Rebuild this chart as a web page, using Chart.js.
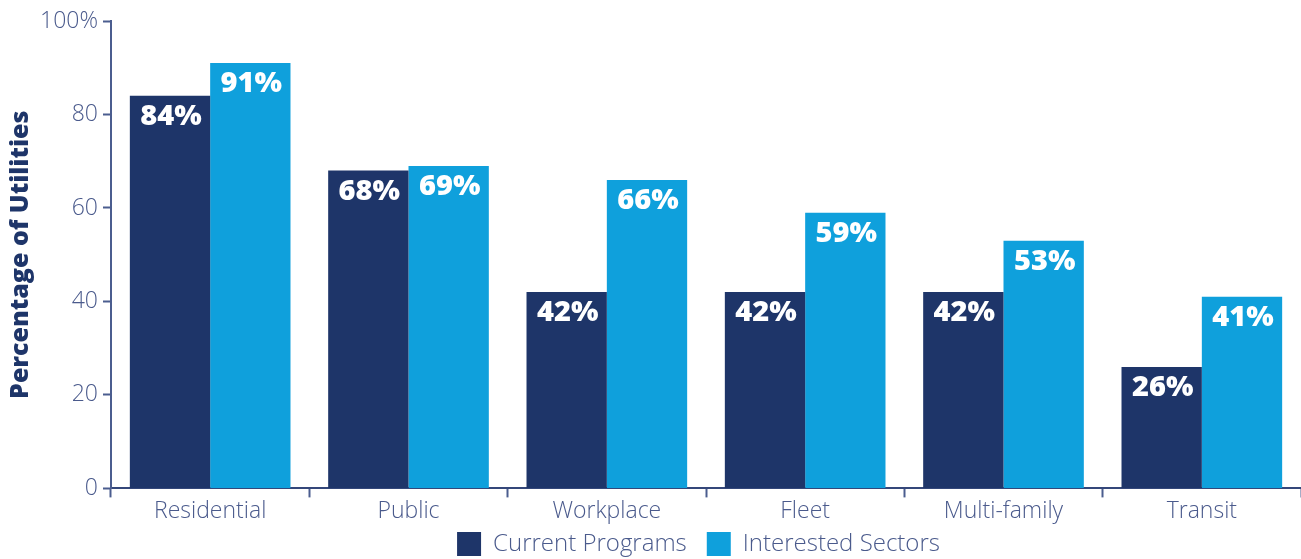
<!DOCTYPE html>
<html>
<head>
<meta charset="utf-8">
<script src="https://cdn.jsdelivr.net/npm/chart.js@4/dist/chart.umd.min.js"></script>
<style>
  html, body { margin: 0; padding: 0; background: #ffffff; }
  #wrap { width: 1301px; height: 559px; }
</style>
</head>
<body>
<div id="wrap"><canvas id="chart" width="1301" height="559"></canvas></div>
<script>
// Sectors where utilities run EV charging programs vs. sectors they are interested in
const categories = ['Residential', 'Public', 'Workplace', 'Fleet', 'Multi-family', 'Transit'];
const currentPrograms = [84, 68, 42, 42, 42, 26];
const interestedSectors = [91, 69, 66, 59, 53, 41];
const yTickLabels = ['0', '20', '40', '60', '80', '100%'];

const NAVY = '#1e3569';
const SKY = '#0fa0dc';
const AXIS = '#4b5d8f';
const TEXT = '#4a5a8c';

// Writes each bar's percentage in white just under its top edge
const barValueLabels = {
  id: 'barValueLabels',
  afterDatasetsDraw(chart) {
    const ctx = chart.ctx;
    ctx.save();
    ctx.font = '800 29px "Open Sans"';
    ctx.fillStyle = '#ffffff';
    ctx.textAlign = 'center';
    ctx.textBaseline = 'middle';
    chart.data.datasets.forEach((ds, i) => {
      chart.getDatasetMeta(i).data.forEach((bar, j) => {
        ctx.fillText(ds.data[j] + '%', bar.x + 1, bar.y + 21);
      });
    });
    ctx.restore();
  }
};

// Nudges the legend block right and up so it sits under the plot
const legendOffset = {
  id: 'legendOffset',
  afterLayout(chart) {
    const lg = chart.legend;
    if (!lg) return;
    const dy = 532 - 20 - lg.top;
    lg.left += 48; lg.right += 48;
    lg.top += dy; lg.bottom += dy;
  }
};

new Chart(document.getElementById('chart'), {
  type: 'bar',
  data: {
    labels: categories,
    datasets: [
      { label: 'Current Programs', data: currentPrograms, backgroundColor: NAVY },
      { label: 'Interested Sectors', data: interestedSectors, backgroundColor: SKY }
    ]
  },
  options: {
    responsive: false,
    animation: false,
    categoryPercentage: 0.81,
    barPercentage: 1.0,
    layout: { padding: { top: 21, right: 0, left: 0, bottom: -20 } },
    plugins: {
      tooltip: { enabled: false },
      legend: {
        position: 'bottom',
        labels: {
          boxWidth: 24,
          boxHeight: 24,
          padding: 20,
          color: TEXT,
          font: { family: '"Open Sans"', size: 24, weight: '300' }
        }
      }
    },
    scales: {
      x: {
        offset: true,
        grid: {
          offset: true,
          drawOnChartArea: false,
          drawTicks: true,
          tickLength: 9,
          tickColor: AXIS,
          tickWidth: 2
        },
        border: { display: true, color: '#34477a', width: 2 },
        ticks: {
          color: TEXT,
          padding: 0,
          font: { family: '"Open Sans"', size: 23, weight: '300' }
        }
      },
      y: {
        min: 0,
        max: 100,
        afterFit(scale) { scale.width = 111; },
        grid: {
          drawOnChartArea: false,
          drawTicks: true,
          tickLength: 8,
          tickColor: AXIS,
          tickWidth: 2
        },
        border: { display: true, color: AXIS, width: 2 },
        ticks: {
          stepSize: 20,
          padding: 5,
          color: TEXT,
          font: { family: '"Open Sans"', size: 23, weight: '300' },
          callback: (value) => yTickLabels[value / 20]
        },
        title: {
          display: true,
          text: 'Percentage of Utilities',
          color: NAVY,
          padding: { top: 6, bottom: 6 },
          font: { family: '"Open Sans"', size: 25, weight: '800' }
        }
      }
    }
  },
  plugins: [barValueLabels, legendOffset]
});
</script>
</body>
</html>
